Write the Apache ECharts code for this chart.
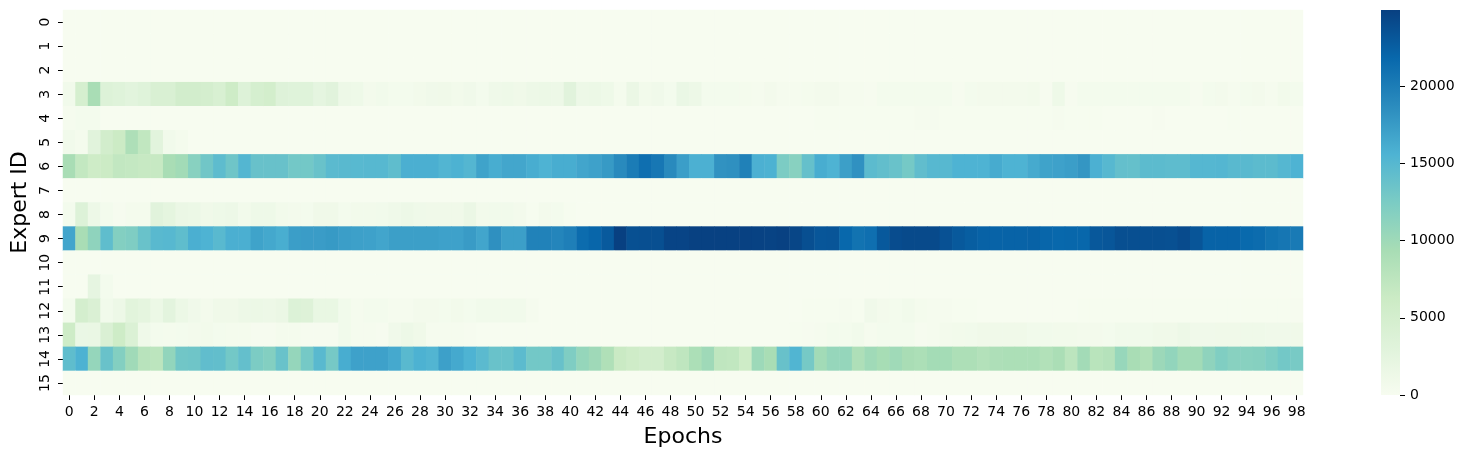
<!DOCTYPE html>
<html><head><meta charset="utf-8">
<script src="https://cdn.jsdelivr.net/npm/echarts@6/dist/echarts.min.js"></script>
<style>html,body{margin:0;padding:0;background:#fff}#c{width:1464px;height:458px}</style>
</head><body><div id="c"></div>
<script>
const epochs = Array.from({length: 99}, (_, i) => String(i));
const experts = ['0','1','2','3','4','5','6','7','8','9','10','11','12','13','14','15'];
const colorbarTicks = [0, 5000, 10000, 15000, 20000];
const gnBu = ['#f7fcf0','#e0f3db','#ccebc5','#a8ddb5','#7bccc4','#4eb3d3','#2b8cbe','#0868ac','#084081'];
const vmax = 24950;

const expert0 = new Array(99).fill(0);
const expert1 = new Array(99).fill(0);
const expert2 = new Array(99).fill(0);
const expert3 = [800,4800,9300,3600,3200,2800,3300,4200,4200,5300,5300,5000,4400,6000,3600,4800,5200,3400,3300,3300,2400,3000,1300,1200,600,800,500,500,700,900,1000,700,900,500,1100,1200,1000,1300,1500,1300,3000,1400,1500,1200,400,1600,700,900,500,1700,1300,500,500,500,400,250,600,300,300,400,600,600,300,300,200,500,500,500,500,500,500,200,500,600,600,600,600,700,200,1200,200,500,500,500,500,500,500,500,500,500,200,500,600,300,500,600,300,700,500];
const expert4 = [300,500,500,60,50,50,50,50,50,50,50,50,50,50,50,50,50,50,50,50,50,50,50,50,50,50,50,50,50,50,50,50,50,50,50,50,50,50,50,50,50,50,50,50,50,50,50,50,50,50,50,50,50,50,50,50,50,50,60,60,100,150,150,100,150,150,100,100,300,300,100,100,100,100,100,100,100,100,100,300,150,150,150,50,50,50,50,200,50,50,50,50,50,150,50,50,50,50,50];
const expert5 = [800,400,3000,5300,6200,8800,7200,2800,800,400,30,30,30,30,30,30,30,30,30,30,30,30,30,30,30,30,30,30,30,30,30,30,30,30,30,30,30,30,30,30,30,30,30,30,30,30,30,30,30,30,30,30,30,30,30,30,30,30,30,30,30,30,30,30,30,30,30,30,30,30,30,30,30,30,30,30,30,30,30,30,30,30,30,30,30,30,30,30,30,30,30,30,30,30,30,30,30,30,30];
const expert6 = [9300,7000,5900,6200,7100,6900,6700,6700,9300,9800,11600,13200,14500,13300,15200,13800,13800,13800,13000,13000,13700,14700,14800,14900,15000,15000,14400,15900,15900,15900,15300,15700,15200,16900,16100,16600,16600,16100,15600,16100,16100,16700,17000,17600,18900,20100,21200,20500,18900,17300,15800,15800,18200,18400,19700,15800,15700,12400,11600,14000,16100,15600,17200,18300,14600,14200,13700,12900,14300,15000,15000,15600,15600,15600,16200,15600,15600,16300,16900,17000,17300,17900,15800,15000,14100,14000,14600,14600,14500,14500,15100,15100,15200,14800,14800,14600,14600,15100,15600];
const expert7 = new Array(99).fill(50);
const expert8 = [500,3600,1300,500,200,400,400,3000,2500,1600,1500,1000,1200,1300,700,1200,1200,700,600,500,1000,1000,500,700,700,800,1100,1300,1100,1000,1000,1000,1600,700,800,800,600,150,600,500,100,30,30,30,30,30,30,30,30,30,30,30,30,30,30,30,30,30,30,30,30,30,30,30,30,30,30,30,30,30,30,30,30,30,30,30,30,30,30,30,30,30,30,30,30,30,30,30,30,30,30,30,30,30,30,30,30,30,30];
const expert9 = [16700,9300,11100,14400,11900,12200,13700,14800,15000,14400,15900,15600,14800,15900,15900,16900,16500,16000,17300,17400,17400,17600,17300,17100,17000,16700,17200,17200,17200,17200,17000,17000,17500,16700,18400,17200,17200,19600,19600,19300,19800,21500,22000,22900,24950,23700,23800,23800,24600,24600,24900,24900,24900,24900,24900,24800,24700,24900,24500,23800,23200,23300,21800,20900,21200,23000,24000,24200,24200,24200,23600,23000,22600,22300,22200,22200,22200,22300,22000,21800,21900,21900,23100,23200,23800,23800,23800,23800,23700,24100,23300,22200,22200,22200,21700,21500,20900,20600,20300];
const expert10 = new Array(99).fill(20);
const expert11 = [20,20,2300,500,20,20,20,20,20,20,20,20,20,20,20,20,20,20,20,20,20,20,20,20,20,20,20,20,20,20,20,20,20,20,20,20,20,20,20,20,20,20,20,20,20,20,20,20,20,20,20,20,20,20,20,20,20,20,20,20,20,20,20,20,20,20,20,20,20,20,20,20,20,20,20,20,20,20,20,20,20,20,20,20,20,20,20,20,20,20,20,20,20,20,20,20,20,20,20];
const expert12 = [500,5000,4100,800,1300,2900,2500,1500,2700,1500,900,600,1000,1000,1300,1500,1300,1600,3700,3500,1900,1900,800,300,500,500,300,300,600,600,500,700,500,800,800,800,800,300,30,30,30,30,30,30,30,30,30,30,30,30,30,30,30,30,30,30,30,30,30,150,150,150,250,150,900,600,500,800,400,300,300,100,100,60,60,60,60,60,60,60,60,100,100,100,100,100,100,100,100,100,100,100,100,100,100,100,100,100,200];
const expert13 = [5900,1700,1800,4100,6000,3900,1100,500,400,500,600,700,500,400,400,200,200,400,400,200,200,200,800,300,300,200,900,1400,1000,300,300,300,200,50,50,50,50,50,50,50,50,50,50,50,50,50,50,50,50,50,50,50,50,50,50,50,50,50,150,200,300,500,500,800,300,500,500,500,200,300,600,700,800,1000,1000,1000,1000,800,800,700,700,600,600,500,800,800,800,1000,1000,1300,900,900,1000,1000,1100,1100,900,900,1000];
const expert14 = [14400,15700,10700,13700,11900,9900,8000,7600,10900,13200,13300,14300,14200,13000,14100,12400,11900,13700,10700,12900,14800,12800,16100,17000,17000,17000,16400,14800,15700,15300,17100,16400,15600,14700,13700,13700,14600,13000,13000,13800,12200,10700,10000,8700,6400,5800,5300,5300,6700,7400,9000,10000,7400,7200,6000,10100,9300,13800,15400,12800,9800,10600,10700,8800,9900,9400,9900,9300,9000,9600,9600,8900,8900,8400,8800,9000,9000,9000,8500,9100,7600,9700,7900,8200,10500,9300,8700,10200,10900,9800,9800,11100,12100,11600,11600,11700,12300,13000,12700];
const expert15 = new Array(99).fill(50);

const rows = [expert0,expert1,expert2,expert3,expert4,expert5,expert6,expert7,expert8,expert9,expert10,expert11,expert12,expert13,expert14,expert15];
const cells = [];
rows.forEach((row, y) => row.forEach((v, x) => cells.push([x, y, v])));

const font = 'DejaVu Sans';
const tickLine = {show: true, inside: false, length: 5, lineStyle: {color: '#000', width: 1}};
const chart = echarts.init(document.getElementById('c'), null, {renderer: 'canvas'});
chart.setOption({
  animation: false,
  textStyle: {fontFamily: font},
  grid: [
    {left: 63, top: 10, width: 1240, height: 385, outerBoundsMode: 'none'},
    {left: 1381, top: 10, width: 19, height: 385, outerBoundsMode: 'none'}
  ],
  xAxis: [{
    type: 'category', data: epochs, gridIndex: 0, position: 'bottom',
    name: 'Epochs', nameLocation: 'middle', nameGap: 31, nameMoveOverlap: false,
    nameTextStyle: {fontSize: 22, color: '#000', fontFamily: font},
    axisLine: {show: false},
    axisTick: {interval: 1, alignWithLabel: true, ...tickLine},
    axisLabel: {interval: 1, fontSize: 14, color: '#000', margin: 10, fontFamily: font},
    splitArea: {show: false}, splitLine: {show: false}
  }, {
    type: 'category', gridIndex: 1, show: false, data: ['scale']
  }],
  yAxis: [{
    type: 'category', data: experts, gridIndex: 0, inverse: true,
    name: 'Expert ID', nameLocation: 'middle', nameGap: 32, nameRotate: 90, nameMoveOverlap: false,
    nameTextStyle: {fontSize: 22, color: '#000', fontFamily: font},
    axisLine: {show: false},
    axisTick: {alignWithLabel: true, interval: 0, ...tickLine},
    axisLabel: {interval: 0, rotate: 90, fontSize: 14, color: '#000', margin: 11, fontFamily: font, align: 'center', verticalAlign: 'bottom'},
    splitArea: {show: false}, splitLine: {show: false}
  }, {
    type: 'value', gridIndex: 1, position: 'right', min: 0, max: vmax,
    axisLine: {show: false},
    axisTick: {customValues: colorbarTicks, ...tickLine},
    axisLabel: {customValues: colorbarTicks, fontSize: 14, color: '#000', margin: 10, fontFamily: font, formatter: v => String(v)},
    splitLine: {show: false}
  }],
  visualMap: {
    show: false, type: 'continuous', seriesIndex: 0, min: 0, max: vmax, inRange: {color: gnBu}
  },
  series: [{
    type: 'heatmap', data: cells, xAxisIndex: 0, yAxisIndex: 0
  }, {
    type: 'bar', xAxisIndex: 1, yAxisIndex: 1, data: [vmax], barWidth: '100%', silent: true,
    itemStyle: {color: new echarts.graphic.LinearGradient(0, 1, 0, 0,
      gnBu.map((c, i) => ({offset: i / (gnBu.length - 1), color: c})))}
  }]
});
chart.getZr().storage.getDisplayList(true).forEach(el => { el.autoBatch = false; });
chart.getZr().refresh();
</script></body></html>
